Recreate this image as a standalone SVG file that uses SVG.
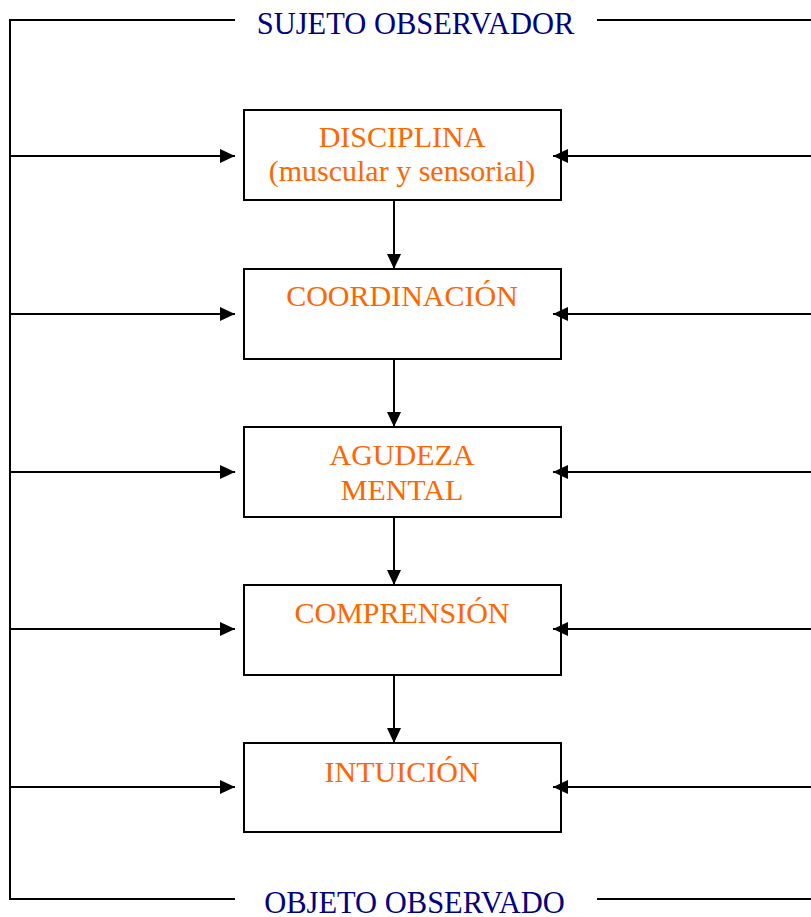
<svg xmlns="http://www.w3.org/2000/svg" width="811" height="917" viewBox="0 0 811 917">
<defs>
<marker id="ah" markerUnits="userSpaceOnUse" markerWidth="15" markerHeight="14" refX="15" refY="7" orient="auto">
<path d="M0,0 L15,7 L0,14 z" fill="#000"/>
</marker>
<style>
.box{fill:#fff;stroke:#000;stroke-width:2}
.ln{fill:none;stroke:#000;stroke-width:2}
.ar{fill:none;stroke:#000;stroke-width:2;marker-end:url(#ah)}
.lbl{font-family:"Liberation Serif","Times New Roman",serif;font-size:30px;fill:#FF6600;text-anchor:middle}
.ttl{font-family:"Liberation Serif","Times New Roman",serif;font-size:30.5px;fill:#000080;text-anchor:middle}
</style>
</defs>
<rect width="811" height="917" fill="#fff"/>
<g id="frame">
<polyline class="ln" points="235,20 10,20 10,899 235,899"/>
<line class="ln" x1="597" y1="20" x2="811" y2="20"/>
<line class="ln" x1="597" y1="899" x2="811" y2="899"/>
</g>
<g id="sujeto"><text class="ttl" x="415.5" y="34">SUJETO OBSERVADOR</text></g>
<g id="objeto"><text class="ttl" x="414.5" y="913">OBJETO OBSERVADO</text></g>
<g id="disciplina">
<rect class="box" x="244" y="110" width="317" height="90"/>
<text class="lbl" x="402" y="147">DISCIPLINA</text>
<text class="lbl" x="402" y="181">(muscular y sensorial)</text>
</g>
<g id="coordinacion">
<rect class="box" x="244" y="269" width="317" height="90"/>
<text class="lbl" x="402" y="306">COORDINACIÓN</text>
</g>
<g id="agudeza">
<rect class="box" x="244" y="427" width="317" height="90"/>
<text class="lbl" x="402" y="465">AGUDEZA</text>
<text class="lbl" x="402" y="500">MENTAL</text>
</g>
<g id="comprension">
<rect class="box" x="244" y="585" width="317" height="90"/>
<text class="lbl" x="402" y="623">COMPRENSIÓN</text>
</g>
<g id="intuicion">
<rect class="box" x="244" y="743" width="317" height="89"/>
<text class="lbl" x="402" y="782">INTUICIÓN</text>
</g>
<g id="connectors">
<line class="ar" x1="394" y1="200" x2="394" y2="269"/>
<line class="ar" x1="394" y1="359" x2="394" y2="427"/>
<line class="ar" x1="394" y1="517" x2="394" y2="585"/>
<line class="ar" x1="394" y1="675" x2="394" y2="743"/>
<line class="ar" x1="10" y1="156" x2="235" y2="156"/>
<line class="ar" x1="10" y1="314" x2="235" y2="314"/>
<line class="ar" x1="10" y1="472" x2="235" y2="472"/>
<line class="ar" x1="10" y1="629" x2="235" y2="629"/>
<line class="ar" x1="10" y1="787" x2="235" y2="787"/>
<line class="ar" x1="811" y1="156" x2="553" y2="156"/>
<line class="ar" x1="811" y1="314" x2="553" y2="314"/>
<line class="ar" x1="811" y1="472" x2="553" y2="472"/>
<line class="ar" x1="811" y1="629" x2="553" y2="629"/>
<line class="ar" x1="811" y1="787" x2="553" y2="787"/>
</g>
</svg>
